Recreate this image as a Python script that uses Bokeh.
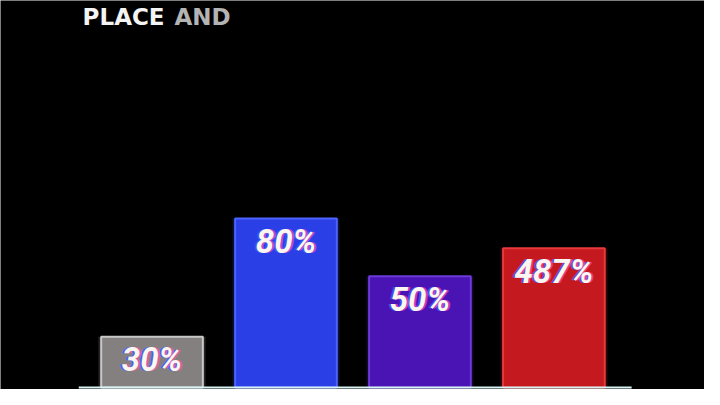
from bokeh.plotting import figure
from bokeh.models import Range1d, ColumnDataSource
from bokeh.core.properties import value
from bokeh.embed import file_html
from bokeh.resources import INLINE

# ---- data ----
labels = ["30%", "80%", "50%", "487%"]
values_pct = [30, 80, 50, 487]
bar_heights = [53, 176, 116, 145]          # displayed bar heights (chart units)
fill_colors = ["#858080", "#2a3fe6", "#4a14b4", "#c4191f"]
edge_colors = ["#c8c8c8", "#4d63ff", "#6b3ad8", "#e8393c"]
title_main = "PLACE"
title_rest = "AND"

x = list(range(len(labels)))
label_y = [h - 24 for h in bar_heights]
src = ColumnDataSource(dict(x=x, top=bar_heights, fill=fill_colors, edge=edge_colors,
                            label=labels, ly=label_y, pct=values_pct))

W, H = 704, 389
p = figure(width=W, height=H, output_backend="svg", toolbar_location=None,
           x_range=Range1d(-1.131, 4.124), y_range=Range1d(-2, 403),
           min_border=0, min_border_left=0, min_border_right=0,
           min_border_top=0, min_border_bottom=0)
p.axis.visible = False
p.grid.visible = False
p.background_fill_color = "black"
p.border_fill_color = "black"
p.outline_line_color = None

# glow behind bars
p.vbar(x="x", top="top", bottom=0, width=0.80, source=src, fill_color="edge",
       fill_alpha=0.18, line_color=None)
# bars
p.vbar(x="x", top="top", bottom=0, width=0.759, source=src, fill_color="fill",
       line_color="edge", line_width=2)

# baseline
p.segment(x0=[-0.547], x1=[3.58], y0=[0], y1=[0], line_color="#d8f4f4", line_width=2)

# labels with chromatic fringe
common = dict(x="x", y="ly", text="label", source=src, text_align="center",
              text_baseline="middle", text_font=value("Roboto"),
              text_font_style="bold italic", text_font_size="33px")
p.text(x_offset=-2, text_color="#3a5cff", text_alpha=0.8, **common)
p.text(x_offset=2, text_color="#ff4fb0", text_alpha=0.7, **common)
p.text(text_color="#fbf6f0", **common)

# title
p.text(x=[-0.518], y=[386], text=[title_main], text_align="left", text_baseline="middle",
       text_font=value("DejaVu Sans"), text_font_style="bold", text_font_size="23px",
       text_color="#f4f4f4")
p.text(x=[0.168], y=[386], text=[title_rest], text_align="left", text_baseline="middle",
       text_font=value("DejaVu Sans"), text_font_style="bold", text_font_size="23px",
       text_color="#b4b4b4")

html = file_html(p, INLINE)
html = html.replace("<body>", '<body style="background:#000000;">', 1)
open("out.html", "w").write(html)
